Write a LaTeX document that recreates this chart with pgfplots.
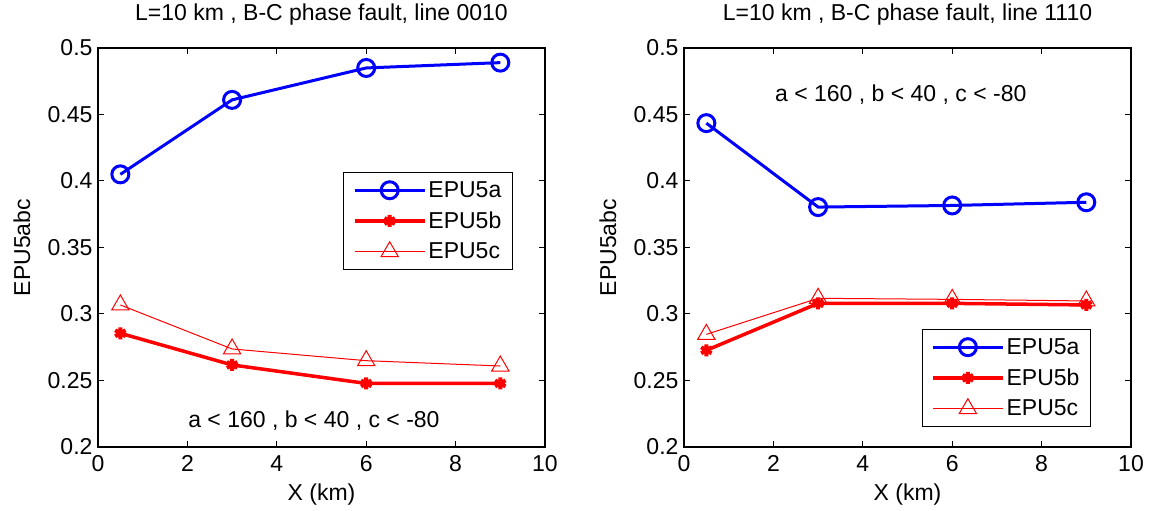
\documentclass[border=0pt]{standalone}
\usepackage{fontspec}
\setmainfont{Liberation Sans}
\usepackage{pgfplots}
\pgfplotsset{compat=1.18}
\newcommand{\ff}{\fontsize{23}{26}\selectfont}
\definecolor{mblue}{RGB}{0,0,255}
\definecolor{mred}{RGB}{255,0,0}
\pgfplotsset{myax/.style={
  anchor=south west, width=447pt, height=399pt, scale only axis,
  xmin=0, xmax=10, ymin=0.2, ymax=0.5,
  xtick={0,2,4,6,8,10}, ytick={0.2,0.25,0.3,0.35,0.4,0.45,0.5},
  minor tick num=0,
  tick align=inside, major tick length=6pt,
  axis line style={line width=1.2pt},
  every tick/.style={black, line width=1pt},
  /pgf/number format/assume math mode=true,
  tick label style={font=\ff},
  yticklabel style={/pgf/number format/fixed, /pgf/number format/precision=2, xshift=-2pt},
  xticklabel style={yshift=-5pt},
  label style={font=\ff},
  ylabel=EPU5abc, xlabel={X (km)},
  ylabel style={at={(axis description cs:-0.17,0.5)}, anchor=center},
  xlabel style={at={(axis description cs:0.5,-0.118)}, anchor=center},
  title style={font=\ff, at={(axis description cs:0.5,1.07)}, anchor=center},
  legend cell align=left,
  legend style={font=\ff, draw=black, line width=1pt, inner xsep=9pt, inner ysep=7pt,
    row sep=9pt, /tikz/every even column/.append style={column sep=8pt}},
  legend image code/.code={\draw[mark repeat=2,mark phase=2,#1] plot coordinates {(0pt,0pt) (35pt,0pt) (70pt,0pt)};},
  sa/.style={color=mblue, line width=3pt, mark=o, mark size=8.5pt, mark options={solid, line width=3pt}},
  sb/.style={color=mred, line width=3.5pt, mark=asterisk, mark size=6pt, mark options={solid, line width=4pt}},
  sc/.style={color=mred, line width=1pt, mark=triangle, mark size=10pt, mark options={solid, line width=1pt}},
}}
\begin{document}
\begin{tikzpicture}[x=1pt,y=1pt]
\path[use as bounding box] (0,0) rectangle (1149,511);
\begin{axis}[myax, at={(98pt,64pt)},
  title={L=10 km , B-C phase fault, line 0010},
  legend style={at={(0.928,0.689)}, anchor=north east}]
\addplot[sa] coordinates {(0.5,0.405) (3,0.461) (6,0.485) (9,0.489)};
\addplot[sb] coordinates {(0.5,0.2855) (3,0.2617) (6,0.2478) (9,0.2478)};
\addplot[sc] coordinates {(0.5,0.3068) (3,0.2737) (6,0.2649) (9,0.2609)};
\legend{EPU5a,EPU5b,EPU5c}
\node[font=\ff] at (axis cs:4.83,0.22) {a < 160 , b < 40 , c < -80};
\end{axis}
\begin{axis}[myax, at={(684pt,64pt)},
  title={L=10 km , B-C phase fault, line 1110},
  legend style={at={(0.9105,0.2957)}, anchor=north east}]
\addplot[sa] coordinates {(0.5,0.4435) (3,0.3804) (6,0.3816) (9,0.384)};
\addplot[sb] coordinates {(0.5,0.2727) (3,0.308) (6,0.308) (9,0.3068)};
\addplot[sc] coordinates {(0.5,0.2847) (3,0.3118) (6,0.311) (9,0.3098)};
\legend{EPU5a,EPU5b,EPU5c}
\node[font=\ff] at (axis cs:4.85,0.465) {a < 160 , b < 40 , c < -80};
\end{axis}
\end{tikzpicture}
\end{document}
